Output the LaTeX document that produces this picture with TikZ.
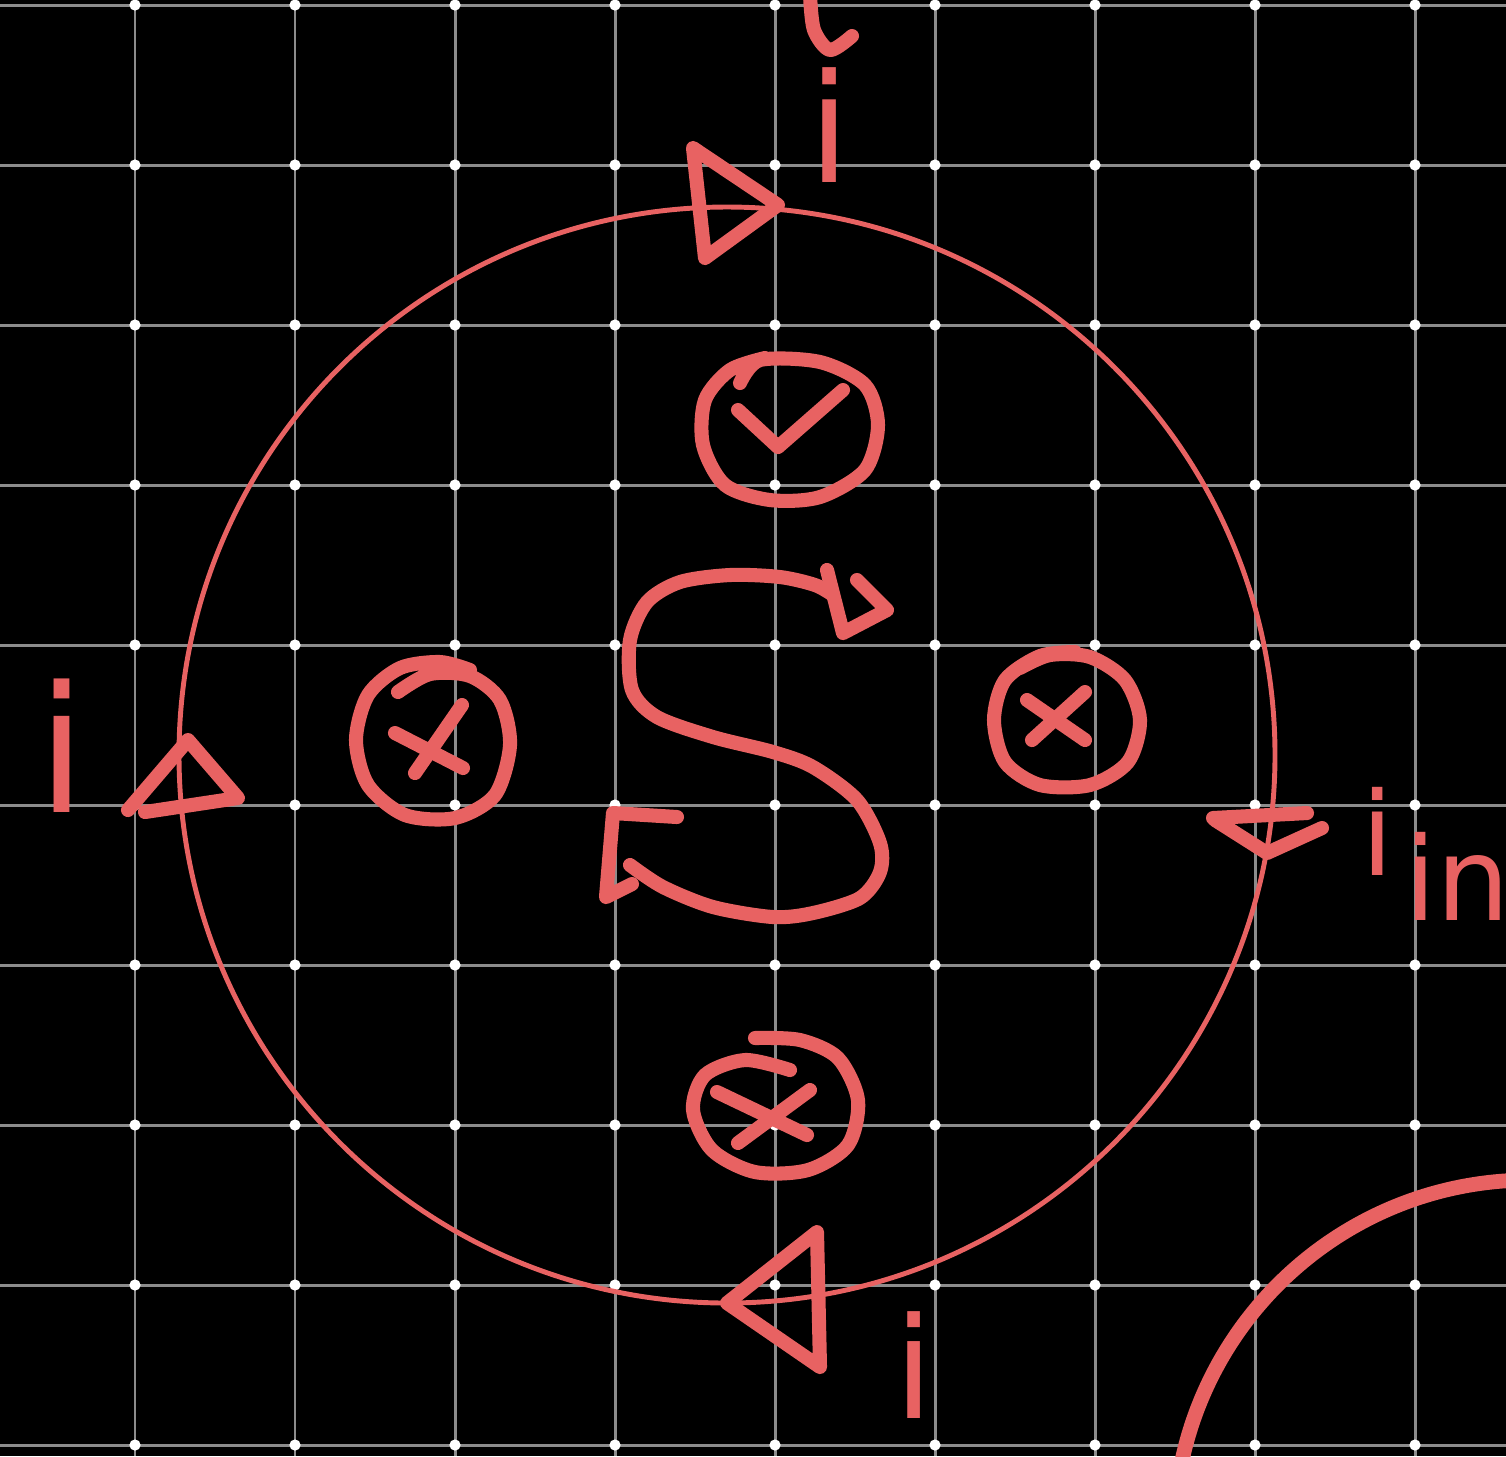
\documentclass[tikz,border=0pt]{standalone}
\usepackage{fontspec}
\newfontfamily\handfont{DejaVu Sans}
\definecolor{ink}{RGB}{232,98,98}
\definecolor{gridgray}{RGB}{140,140,140}
\begin{document}
\begin{tikzpicture}[x=0.01cm,y=-0.01cm,
  pen/.style={draw=ink,line width=4pt,line cap=round,line join=round},
  rim/.style={draw=ink,line width=1.4pt},
  gridline/.style={draw=gridgray,line width=0.85pt},
  griddot/.style={fill=white},
  lab/.style={text=ink,inner sep=0pt}]
\fill[black] (0,0) rectangle (1506,1456);
\useasboundingbox (0,0) rectangle (1506,1456);
% grid
\foreach \gx in {135,295,...,1415} \draw[gridline] (\gx,0) -- (\gx,1456);
\foreach \gy in {5,165,...,1445} \draw[gridline] (0,\gy) -- (1506,\gy);
\foreach \gx in {135,295,...,1415} {\foreach \gy in {5,165,...,1445} {\fill[griddot] (\gx,\gy) circle[radius=1.6pt];}}
% main loop
\coordinate (loopc) at (727,755);
\draw[rim] (loopc) circle[radius=548];
% second loop (bottom right, partly visible)
\coordinate (otherc) at (1530,1536);
\draw[draw=ink,line width=4.2pt] (otherc) circle[radius=356];
% direction triangles on the loop
\draw[pen] (693,148) -- (778,205) -- (705,258) -- cycle;
\draw[pen] (128,810) -- (188,740) -- (238,798) -- (145,812);
\draw[pen] (1213,818) -- (1307,813);
\draw[pen] (1215,820) -- (1267,853) -- (1322,828);
\draw[pen] (727,1303) -- (817,1232) -- (820,1367) -- cycle;
% labels
\node[lab,anchor=base,font={\handfont\fontsize{43}{43}\selectfont}] (itop) at (829,182) {i};
\node[lab,anchor=base,font={\handfont\fontsize{50}{50}\selectfont}] (ileft) at (62,812) {i};
\node[lab,anchor=base,text depth=0pt,font={\handfont\fontsize{40}{40}\selectfont}] (ibottom) at (914,1418) {i};
\node[lab,anchor=base west,font={\handfont\fontsize{33}{33}\selectfont}] (iright) at (1361,875) {i\hspace{3pt}\raisebox{-13pt}{in}};
% partial letter at top edge
\draw[pen] plot[smooth] coordinates {(810,-5) (814,30) (830,50) (852,36)};
% circled check
\draw[pen] plot[smooth] coordinates {(740,383) (760,360) (820,362) (865,385) (878,425) (865,470) (820,497) (770,500) (725,485) (703,445) (705,400) (730,370) (765,358)};
\draw[pen] (738,410) -- (778,447) -- (843,390);
% left circled cross
\draw[pen] plot[smooth] coordinates {(398,692) (430,674) (470,676) (500,700) (510,745) (495,795) (455,818) (405,815) (368,785) (356,740) (368,695) (400,668) (440,662) (470,670)};
\draw[pen] (395,733) -- (463,768);
\draw[pen] (462,705) -- (415,773);
% right circled cross
\draw[pen] plot[smooth] coordinates {(1020,668) (1050,655) (1090,657) (1125,680) (1140,720) (1128,762) (1090,785) (1040,785) (1005,762) (994,720) (1005,680) (1040,656) (1075,652)};
\draw[pen] (1027,700) -- (1085,740);
\draw[pen] (1085,692) -- (1032,740);
% bottom circled cross
\draw[pen] plot[smooth] coordinates {(755,1038) (800,1040) (838,1058) (858,1100) (848,1145) (808,1170) (755,1172) (712,1150) (693,1110) (705,1075) (745,1060) (790,1070)};
\draw[pen] (717,1092) -- (807,1135);
\draw[pen] (810,1090) -- (738,1143);
% S-shaped circulation
\draw[pen] plot[smooth] coordinates {(833,595) (815,585) (780,577) (730,575) (680,582) (647,602) (630,640) (632,690) (657,717) (713,737) (773,752) (813,767) (857,800) (880,843) (880,872) (860,898) (813,913) (773,917) (713,907) (663,887) (630,865)};
\draw[pen] (827,570) -- (843,633) -- (887,610) -- (857,580);
\draw[pen] (677,817) -- (613,813) -- (606,897) -- (632,884);
\end{tikzpicture}
\end{document}
